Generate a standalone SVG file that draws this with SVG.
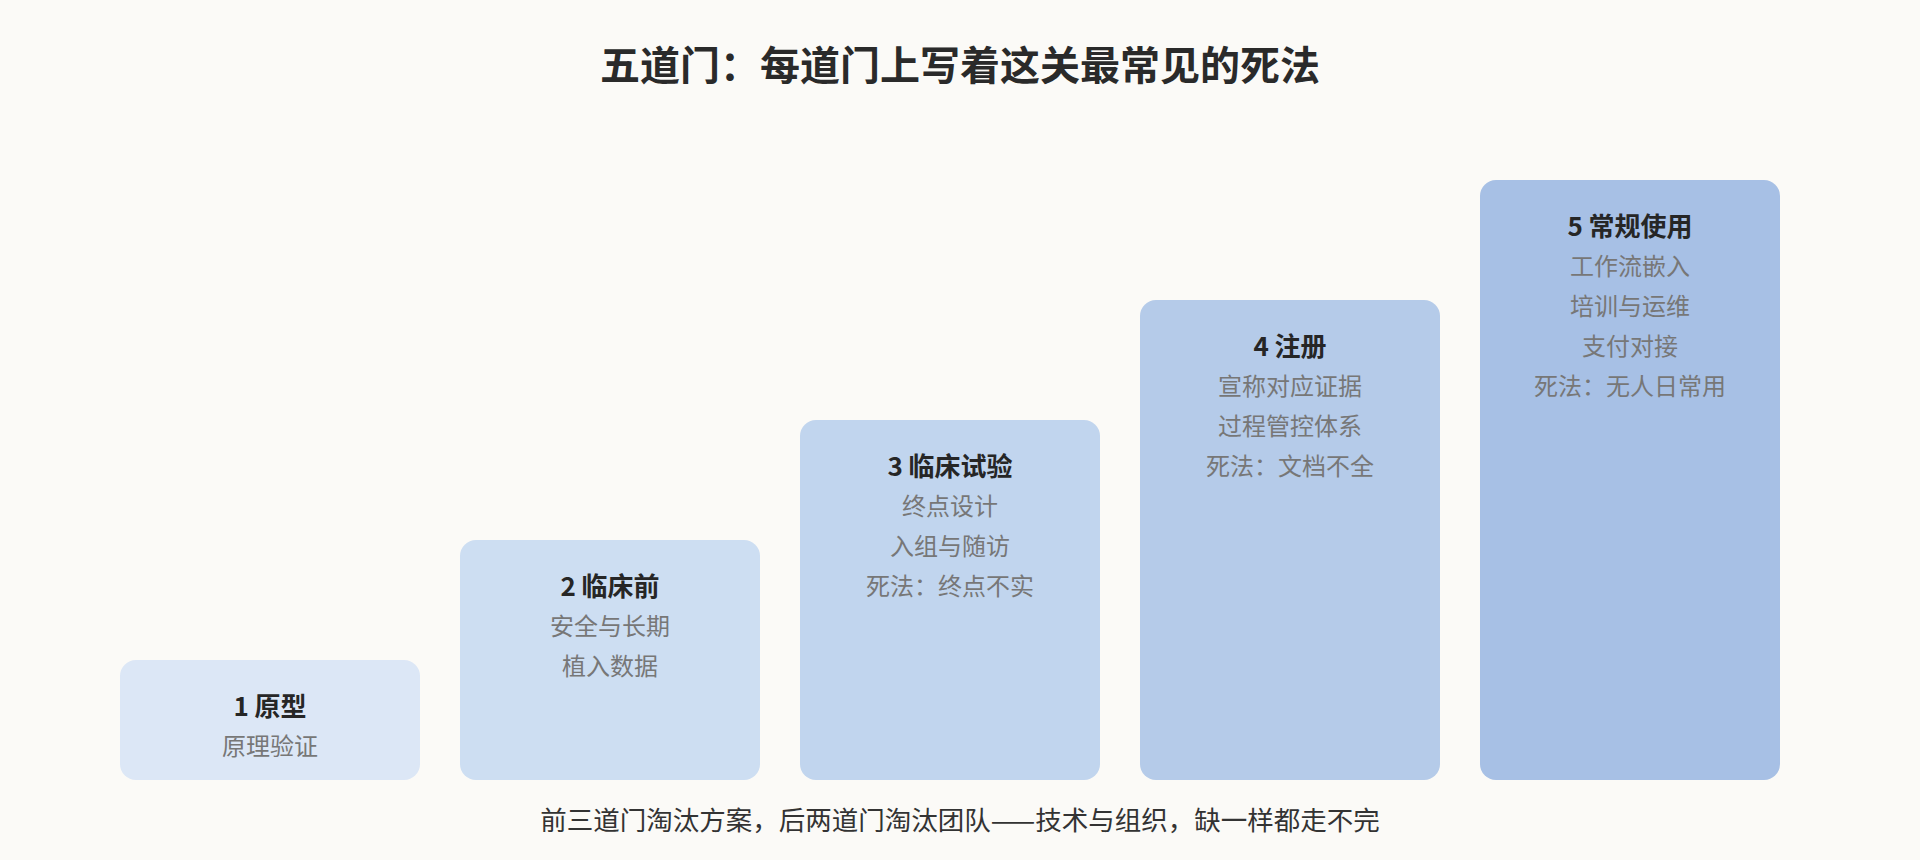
<svg xmlns="http://www.w3.org/2000/svg" width="1920" height="860" viewBox="0 0 1920 860">
<style>
text{font-family:"Noto Sans CJK SC","Noto Sans",sans-serif;text-anchor:middle}
.title{font-size:40px;font-weight:700;fill:#2a2a2a}
.h{font-size:26px;font-weight:700;fill:#262626}
.l{font-size:24px;fill:#777777}
.foot{font-size:26.5px;fill:#333333}
</style>
<rect width="1920" height="860" fill="#fbfaf7"/>
<text class="title" x="960" y="80">五道门：每道门上写着这关最常见的死法</text>
<g id="connectors"></g>
<g id="gate1">
<rect x="120" y="660" width="300" height="120" rx="16" fill="#dce7f6"/>
<text class="h" x="270" y="716">1 原型</text>
<text class="l" x="270" y="755">原理验证</text>
</g>
<g id="gate2">
<rect x="460" y="540" width="300" height="240" rx="16" fill="#cddef2"/>
<text class="h" x="610" y="596">2 临床前</text>
<text class="l" x="610" y="635">安全与长期</text>
<text class="l" x="610" y="675">植入数据</text>
</g>
<g id="gate3">
<rect x="800" y="420" width="300" height="360" rx="16" fill="#c1d5ee"/>
<text class="h" x="950" y="476">3 临床试验</text>
<text class="l" x="950" y="515">终点设计</text>
<text class="l" x="950" y="555">入组与随访</text>
<text class="l" x="950" y="595">死法：终点不实</text>
</g>
<g id="gate4">
<rect x="1140" y="300" width="300" height="480" rx="16" fill="#b5cbe9"/>
<text class="h" x="1290" y="356">4 注册</text>
<text class="l" x="1290" y="395">宣称对应证据</text>
<text class="l" x="1290" y="435">过程管控体系</text>
<text class="l" x="1290" y="475">死法：文档不全</text>
</g>
<g id="gate5">
<rect x="1480" y="180" width="300" height="600" rx="16" fill="#a7c0e5"/>
<text class="h" x="1630" y="236">5 常规使用</text>
<text class="l" x="1630" y="275">工作流嵌入</text>
<text class="l" x="1630" y="315">培训与运维</text>
<text class="l" x="1630" y="355">支付对接</text>
<text class="l" x="1630" y="395">死法：无人日常用</text>
</g>
<text class="foot" x="960" y="830">前三道门淘汰方案，后两道门淘汰团队——技术与组织，缺一样都走不完</text>
</svg>
